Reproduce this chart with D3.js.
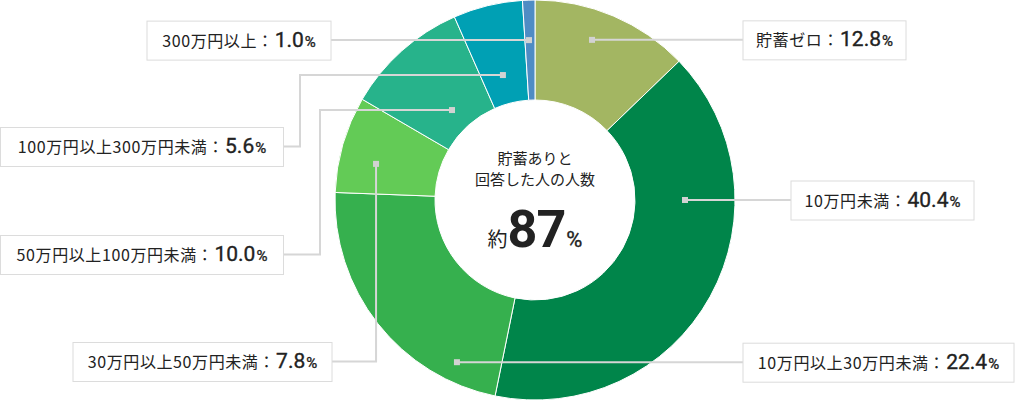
<!DOCTYPE html>
<html>
<head>
    <meta charset="utf-8">
    <title>貯蓄額の内訳</title>
    <script src="https://d3js.org/d3.v7.min.js"></script>
    <style>
        body {
            margin: 0;
            background: #fff;
        }
        svg {
            display: block;
            font-family: "Noto Sans CJK JP", "Noto Sans", sans-serif;
        }
        .slice {
            stroke: #fff;
            stroke-width: 1;
        }
        .leader {
            fill: none;
            stroke: #d6d6d6;
            stroke-width: 2;
        }
        .dot {
            fill: #d2d2d2;
        }
        .box {
            fill: #fff;
            stroke: #dcdcdc;
            stroke-width: 1;
        }
        .label {
            fill: #222;
            font-size: 16px;
            letter-spacing: 0.6px;
        }
        .value {
            font-family: Roboto, sans-serif;
            letter-spacing: 0;
            stroke: #222;
            stroke-width: 0.35;
        }
        .center-text {
            fill: #222;
            font-size: 15px;
            text-anchor: middle;
        }
    </style>
</head>
<body>
    <svg width="1015" height="402"></svg>
    <script>
        // データ
        const categories = ["貯蓄ゼロ", "10万円未満", "10万円以上30万円未満", "30万円以上50万円未満",
            "50万円以上100万円未満", "100万円以上300万円未満", "300万円以上"];
        const values = [12.8, 40.4, 22.4, 7.8, 10.0, 5.6, 1.0];
        const colors = ["#a3b662", "#00854a", "#36b04e", "#63cb56", "#27b38b", "#00a0b4", "#4f8cc4"];
        const centerLines = ["貯蓄ありと", "回答した人の人数"];
        const centerPrefix = "約";
        const centerValue = 87;

        // ラベルの配置（角度は12時から時計回り、度）
        const labelLayout = [
            { angle: 19.6, r: 170, boxX: 743, boxW: 163 },
            { angle: 90, r: 150, boxX: 791, boxW: 183 },
            { angle: 205.7, r: 180, boxX: 743, boxW: 271 },
            { angle: 282.8, r: 163, boxX: 73, boxW: 259, boxY: 342, elbow: "dot" },
            { angle: 317.3, r: 122.4, boxX: 0.5, boxW: 283, boxY: 235, elbow: 320 },
            { angle: 345.6, r: 129, boxX: 0.5, boxW: 283, boxY: 127, elbow: 300 },
            { angle: 357.85, r: 160, boxX: 147, boxW: 184 }
        ];

        const cx = 535, cy = 200;
        const innerR = 100, outerR = 200;
        const boxH = 39;

        const svg = d3.select("svg");
        const g = svg.append("g").attr("transform", `translate(${cx},${cy})`);

        const pie = d3.pie().sort(null).value(d => d)(values);
        const arc = d3.arc().innerRadius(innerR).outerRadius(outerR);

        // ドーナツ
        g.selectAll("path.slice")
            .data(pie)
            .enter()
            .append("path")
            .attr("class", "slice")
            .attr("d", arc)
            .attr("fill", (d, i) => colors[i]);

        // 中央の文字
        g.selectAll("text.center-line")
            .data(centerLines)
            .enter()
            .append("text")
            .attr("class", "center-text")
            .attr("x", 0)
            .attr("y", (d, i) => -36 + i * 21)
            .text(d => d);

        const big = g.append("text")
            .attr("class", "center-text")
            .attr("x", 0)
            .attr("y", 47);
        big.append("tspan").attr("font-size", 20).text(centerPrefix);
        big.append("tspan").attr("font-size", 52).attr("font-weight", 700)
            .attr("font-family", "Roboto, 'Liberation Sans', sans-serif")
            .attr("letter-spacing", -1).text(centerValue);
        big.append("tspan").attr("class", "value").attr("font-size", 22)
            .attr("dx", 1).text("%");

        // 引き出し線とラベル
        const rad = Math.PI / 180;
        const pointArc = d3.arc();

        labelLayout.forEach((lay, i) => {
            const a = lay.angle * rad;
            const p = pointArc.innerRadius(lay.r).outerRadius(lay.r).startAngle(a).endAngle(a).centroid();
            const dot = [cx + p[0], cy + p[1]];
            const boxY = lay.boxY !== undefined ? lay.boxY : dot[1] - boxH / 2;
            const midY = boxY + boxH / 2;
            const rightSide = lay.boxX > cx;
            const edgeX = rightSide ? lay.boxX : lay.boxX + lay.boxW;

            let pts;
            if (lay.elbow !== undefined) {
                const ex = lay.elbow === "dot" ? dot[0] : lay.elbow;
                pts = [[edgeX, midY], [ex, midY], [ex, dot[1]], dot];
            } else {
                pts = [[edgeX, midY], [dot[0], midY]];
            }

            svg.append("path")
                .attr("class", "leader")
                .attr("d", d3.line()(pts));

            svg.append("rect")
                .attr("class", "dot")
                .attr("x", dot[0] - 3)
                .attr("y", dot[1] - 3)
                .attr("width", 6)
                .attr("height", 6);

            svg.append("rect")
                .attr("class", "box")
                .attr("x", lay.boxX)
                .attr("y", boxY + 0.5)
                .attr("width", lay.boxW)
                .attr("height", boxH);

            const t = svg.append("text")
                .attr("class", "label")
                .attr("x", lay.boxX + lay.boxW / 2)
                .attr("y", midY + 6.5)
                .attr("text-anchor", "middle");
            t.append("tspan").text(categories[i] + "：");
            t.append("tspan").attr("class", "value").attr("dx", 1).attr("font-size", 21)
                .text(values[i].toFixed(1));
            t.append("tspan").attr("class", "value").attr("font-size", 15).attr("dx", 1)
                .attr("stroke-width", 0).text("%");
        });
    </script>
</body>
</html>
